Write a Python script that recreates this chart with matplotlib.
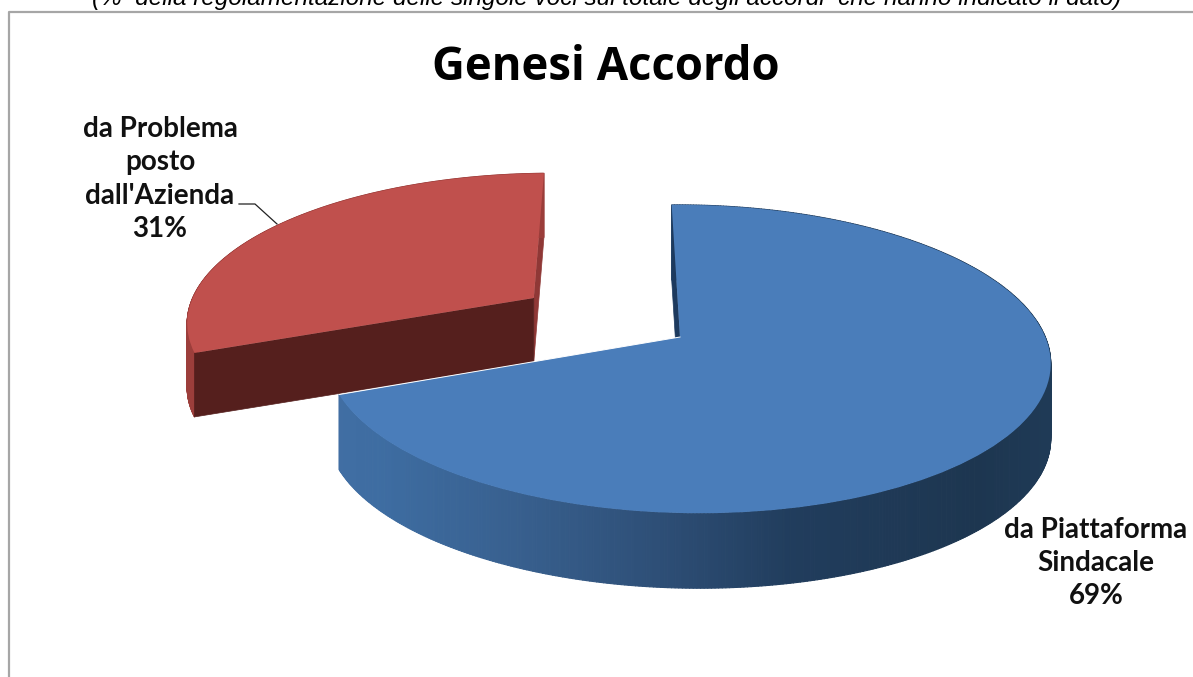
import numpy as np
import matplotlib
matplotlib.use("Agg")
import matplotlib.pyplot as plt
import matplotlib.transforms as mtransforms
from matplotlib.collections import PolyCollection
from matplotlib.colors import LinearSegmentedColormap

title = "Genesi Accordo"
subtitle = "(%  della regolamentazione delle singole voci sul totale degli accordi  che hanno indicato il dato)"
labels = ["da Piattaforma\nSindacale\n69%", "da Problema\nposto\ndall'Azienda\n31%"]
values = [69, 31]
explode = [0, 0.52]
colors = ["#4a7dba", "#c0504d"]

# piatto del 3D: centro, raggi e prospettiva stimati dal riferimento
CX, CY = 680, 337
BLUE_DEPTH = 75
RED_DEPTH = 64
RED_SHIFT = (3, 3)


def tilt_xy(xy, shift=(0, 0)):
    xy = np.asarray(xy, dtype=float)
    u, v = xy[..., 0], xy[..., 1]
    w = 1 + 0.143 * v - 0.02 * u
    x = CX + (358 * u - 9.5 * v) / w + shift[0]
    y = CY - 151 * v / w + shift[1]
    return np.stack([x, y], axis=-1)


class Tilt(mtransforms.Transform):
    input_dims = 2
    output_dims = 2

    def __init__(self, shift=(0, 0)):
        super().__init__()
        self.shift = shift

    def transform_non_affine(self, values):
        return tilt_xy(values, self.shift)


def rim(wedge, t1, t2, n, shift=(0, 0)):
    th = np.radians(np.linspace(t1, t2, n))
    cx, cy = wedge.center
    return tilt_xy(np.column_stack([cx + wedge.r * np.cos(th), cy + wedge.r * np.sin(th)]), shift)


def side_wall(ax, wedge, color_of, depth, z, shift=(0, 0)):
    top = rim(wedge, wedge.theta1, wedge.theta2, 500, shift)
    polys = []
    cols = []
    for a, b in zip(top[:-1], top[1:]):
        polys.append([a, b, b + [0, depth], a + [0, depth]])
        cols.append(color_of((a[0] + b[0]) / 2))
    ax.add_collection(PolyCollection(polys, facecolors=cols, edgecolors=cols, linewidths=0.8, zorder=z))


def cut_face(ax, wedge, angle, color, depth, z, shift=(0, 0)):
    corner = rim(wedge, angle, angle, 1, shift)[0]
    apex = tilt_xy(np.array(wedge.center), shift)
    pts = np.array([corner, apex, apex + [0, depth], corner + [0, depth]])
    ax.fill(pts[:, 0], pts[:, 1], color=color, lw=0.5, zorder=z)


fig = plt.figure(figsize=(11.93, 6.77), dpi=100)
ax = fig.add_axes([0, 0, 1, 1])

wedges, _ = ax.pie(values, explode=explode, colors=colors, startangle=90, counterclock=False)
blue, red = wedges
red.set_radius(1.03)
ax.set_aspect("auto")
ax.set_xlim(0, 1193)
ax.set_ylim(677, 0)
ax.axis("off")

blue.set_transform(Tilt() + ax.transData)
red.set_transform(Tilt(RED_SHIFT) + ax.transData)
for w in wedges:
    w.set_linewidth(0)

# fianchi della fetta rossa
cut_face(ax, red, red.theta1, "#8f3836", RED_DEPTH, 1, RED_SHIFT)
side_wall(ax, red, lambda x: "#9c3e3b", RED_DEPTH, 2, RED_SHIFT)
cut_face(ax, red, red.theta2, "#551f1d", RED_DEPTH, 3, RED_SHIFT)
red.set_zorder(4)

# fianchi della fetta blu, sfumati da sinistra a destra
blue_side = LinearSegmentedColormap.from_list(
    "blue_side",
    [(0, "#416ea3"), (0.06, "#3e6da2"), (0.25, "#38608f"), (0.45, "#2e4f77"),
     (0.64, "#213d5d"), (0.9, "#1d3650"), (1, "#1f3a56")])
side_wall(ax, blue, lambda x: blue_side((x - 335) / 715), BLUE_DEPTH, 5)
cut_face(ax, blue, blue.theta2, "#1d3a5e", BLUE_DEPTH, 6)
blue.set_zorder(7)

edge = np.array([rim(blue, blue.theta1, blue.theta1, 1)[0], tilt_xy(np.array(blue.center))])
ax.plot(edge[:, 0], edge[:, 1], color="white", lw=0.7, zorder=8)

# cornice
ax.plot([8.5, 8.5, 1193], [677, 12, 12], color="#a6a6a6", lw=1.6, zorder=1)

ax.text(92, 5, subtitle, family="Liberation Sans", style="italic", fontsize=17.5,
        ha="left", va="baseline", color="black")
ax.text(606, 80, title, family="Open Sans", weight="bold", fontsize=32.8,
        ha="center", va="baseline", color="black")

ax.text(1096, 563, labels[0], family="Lato", weight="bold", fontsize=20, ha="center",
        va="center", linespacing=1.35, color="#111111", zorder=9)
ax.text(160, 179, labels[1], family="Lato", weight="bold", fontsize=20, ha="center",
        va="center", linespacing=1.35, color="#111111", zorder=9)
ax.plot([239, 255, 277], [204, 204, 224], color="#222222", lw=0.9, zorder=9)

fig.savefig("out.png", dpi=100)
